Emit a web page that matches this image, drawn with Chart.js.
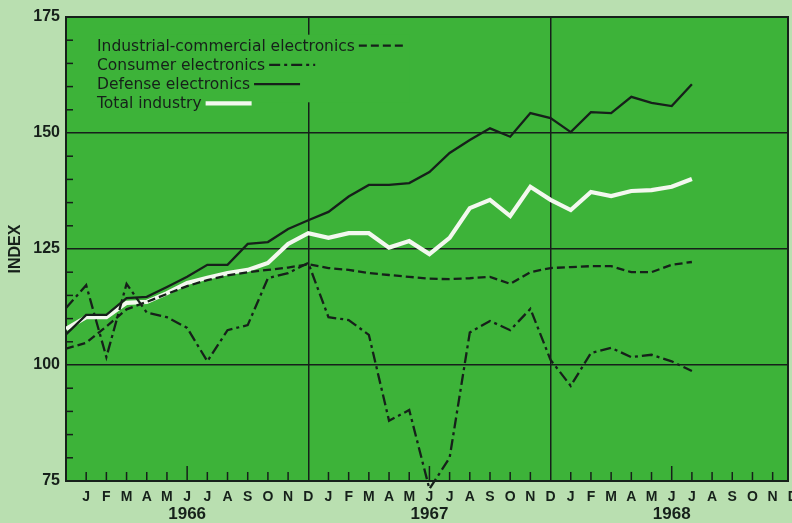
<!DOCTYPE html>
<html>
<head>
<meta charset="utf-8">
<title>Electronics production index</title>
<script src="https://cdn.jsdelivr.net/npm/chart.js@4.4.0/dist/chart.umd.min.js"></script>
<style>
    html, body { margin: 0; padding: 0; background: #b9dfb0; }
    #wrap { width: 792px; height: 523px; }
</style>
</head>
<body>
<div id="wrap"><canvas id="indexChart" width="792" height="523"></canvas></div>
<script>
// Month axis, Dec 1965 (unlabelled) through Dec 1968
const monthLabels = ['',
    'J', 'F', 'M', 'A', 'M', 'J', 'J', 'A', 'S', 'O', 'N', 'D',
    'J', 'F', 'M', 'A', 'M', 'J', 'J', 'A', 'S', 'O', 'N', 'D',
    'J', 'F', 'M', 'A', 'M', 'J', 'J', 'A', 'S', 'O', 'N', 'D'];
// year captions sit under each June tick
const yearLabels = ['1966', '1967', '1968'];

// Monthly index values, Dec 1965 .. Jul 1968
const industrialValues = [103.5, 104.8, 108.3, 112, 113.6, 115.3, 117, 118.3, 119.3, 120, 120.5, 121,
    121.7, 120.9, 120.5, 119.8, 119.4, 119, 118.6, 118.5, 118.7, 119, 117.5, 120,
    120.9, 121.1, 121.3, 121.3, 120, 120, 121.6, 122.2];
const consumerValues = [112.3, 117.2, 101.7, 117.5, 111.3, 110.3, 108, 100.8, 107.5, 108.6, 118.7, 119.8,
    122, 110.3, 109.7, 106.5, 88, 90.3, 73.3, 80, 107, 109.5, 107.5, 112.1,
    101.1, 95.5, 102.6, 103.7, 101.7, 102.2, 100.8, 98.7];
const defenseValues = [106.6, 110.8, 110.8, 114.4, 114.7, 116.8, 119, 121.6, 121.6, 126.1, 126.5, 129.3,
    131.2, 133, 136.3, 138.8, 138.8, 139.2, 141.6, 145.7, 148.5, 151, 149.2, 154.3,
    153.2, 150.2, 154.5, 154.3, 157.8, 156.5, 155.8, 160.5];
const totalValues = [107.8, 110.3, 110.3, 113.4, 113.6, 115.5, 117.7, 118.8, 119.8, 120.5, 122, 126.1,
    128.4, 127.4, 128.4, 128.4, 125.3, 126.7, 123.9, 127.4, 133.8, 135.6, 132.1, 138.4,
    135.6, 133.4, 137.3, 136.4, 137.5, 137.7, 138.4, 140.1];

const seriesNames = ['Industrial-commercial electronics', 'Consumer electronics', 'Defense electronics', 'Total industry'];

const PLOT_GREEN = '#3db339';
const INK = '#16201a';
const AXIS_FONT = "'Liberation Sans', Arial, sans-serif";

function toPoints(values) {
    return values.map(function(v, i) { return { x: i, y: v }; });
}

function seg(ctx, x1, y1, x2, y2) {
    ctx.beginPath();
    ctx.moveTo(x1, y1);
    ctx.lineTo(x2, y2);
    ctx.stroke();
}

/**
 * Green plot panel, frame, inside tick marks, the key and year captions
 */
const panelPlugin = {
    id: 'panel',
    beforeDraw: function(chart) {
        const ctx = chart.ctx;
        const a = chart.chartArea;
        ctx.save();
        ctx.fillStyle = PLOT_GREEN;
        ctx.fillRect(a.left, a.top, a.right - a.left, a.bottom - a.top);
        ctx.restore();
    },
    beforeDatasetsDraw: function(chart) {
        const ctx = chart.ctx;
        const a = chart.chartArea;
        const x = chart.scales.x;
        const y = chart.scales.y;

        ctx.save();
        ctx.strokeStyle = INK;
        ctx.lineWidth = 1.5;

        // minor ticks point inward from the left axis
        y.ticks.forEach(function(t) {
            if (t.value % 25 === 0) return;
            const py = y.getPixelForValue(t.value);
            seg(ctx, a.left, py, a.left + 7, py);
        });

        // month ticks point up from the bottom axis, June a bit longer
        x.ticks.forEach(function(t) {
            if (t.value <= 0 || t.value % 12 === 0 || t.value > x.max) return;
            const px = x.getPixelForValue(t.value);
            const len = (t.value % 12 === 6) ? 15 : 9;
            seg(ctx, px, a.bottom, px, a.bottom - len);
        });

        ctx.lineWidth = 2;
        ctx.strokeRect(a.left, a.top, a.right - a.left, a.bottom - a.top);

        // key: label first, line sample after it
        const keyX = 97;
        const firstBase = 50.7;
        const rowGap = 19.2;
        ctx.font = "15.5px 'DejaVu Sans', sans-serif";
        ctx.textBaseline = 'alphabetic';
        ctx.textAlign = 'left';

        let widest = 0;
        chart.data.datasets.forEach(function(ds) {
            widest = Math.max(widest, ctx.measureText(ds.label).width + 5 + 46);
        });
        ctx.fillStyle = PLOT_GREEN;
        ctx.fillRect(keyX - 4, firstBase - 16, widest + 8, rowGap * 3 + 10);

        chart.data.datasets.forEach(function(ds, i) {
            const base = firstBase + rowGap * i;
            const w = ctx.measureText(ds.label).width;
            ctx.fillStyle = INK;
            ctx.fillText(ds.label, keyX, base);
            ctx.save();
            ctx.strokeStyle = ds.borderColor;
            ctx.lineWidth = ds.borderWidth;
            ctx.setLineDash(ds.borderDash || []);
            seg(ctx, keyX + w + 4, base - 5, keyX + w + 4 + 46, base - 5);
            ctx.restore();
        });

        ctx.restore();
    },
    afterDraw: function(chart) {
        const ctx = chart.ctx;
        const x = chart.scales.x;
        ctx.save();
        ctx.fillStyle = INK;
        ctx.font = 'bold 17px ' + AXIS_FONT;
        ctx.textAlign = 'center';
        ctx.textBaseline = 'middle';
        yearLabels.forEach(function(year, k) {
            ctx.fillText(year, x.getPixelForValue(6 + 12 * k), 514);
        });
        ctx.restore();
    }
};

const ctx = document.getElementById('indexChart');

new Chart(ctx, {
    type: 'line',
    data: {
        datasets: [{
            label: seriesNames[0],
            data: toPoints(industrialValues),
            borderColor: INK,
            borderWidth: 2.3,
            borderDash: [8, 4]
        }, {
            label: seriesNames[1],
            data: toPoints(consumerValues),
            borderColor: INK,
            borderWidth: 2.3,
            borderDash: [11, 4, 3, 4],
            clip: false
        }, {
            label: seriesNames[2],
            data: toPoints(defenseValues),
            borderColor: INK,
            borderWidth: 2.3
        }, {
            label: seriesNames[3],
            data: toPoints(totalValues),
            borderColor: '#f3f8ef',
            borderWidth: 4.2
        }]
    },
    options: {
        responsive: false,
        animation: false,
        devicePixelRatio: 1,
        elements: {
            point: { radius: 0, hoverRadius: 0 },
            line: { tension: 0, borderCapStyle: 'butt', borderJoinStyle: 'miter' }
        },
        layout: { padding: { top: 17, right: 4, left: 0, bottom: 0 } },
        plugins: {
            legend: { display: false },
            tooltip: { enabled: false }
        },
        scales: {
            x: {
                type: 'linear',
                min: 0,
                max: 35.76,
                afterBuildTicks: function(scale) {
                    scale.ticks = monthLabels.map(function(_, i) { return { value: i }; });
                },
                afterFit: function(scale) {
                    scale.height = 42;
                    scale.paddingLeft = 0;
                    scale.paddingRight = 0;
                },
                border: { display: false },
                grid: {
                    drawTicks: false,
                    lineWidth: 1.5,
                    color: function(c) {
                        const v = c.tick ? c.tick.value : -1;
                        return (v === 12 || v === 24) ? INK : 'transparent';
                    }
                },
                ticks: {
                    autoSkip: false,
                    maxRotation: 0,
                    minRotation: 0,
                    padding: 6,
                    color: INK,
                    font: { family: AXIS_FONT, size: 14, weight: 'bold', lineHeight: '20px' },
                    callback: function(value) {
                        return monthLabels[value];
                    }
                }
            },
            y: {
                min: 75,
                max: 175,
                afterFit: function(scale) {
                    scale.width = 66;
                },
                border: { display: false },
                grid: {
                    drawTicks: false,
                    lineWidth: 1.5,
                    color: function(c) {
                        return (c.tick && c.tick.value % 25 === 0) ? INK : 'transparent';
                    }
                },
                ticks: {
                    stepSize: 5,
                    padding: 6,
                    color: INK,
                    font: { family: AXIS_FONT, size: 16, weight: 'bold' },
                    callback: function(value) {
                        return value % 25 === 0 ? String(value) : '';
                    }
                },
                title: {
                    display: true,
                    text: 'INDEX',
                    color: INK,
                    padding: { top: 6, bottom: 0 },
                    font: { family: AXIS_FONT, size: 16, weight: 'bold' }
                }
            }
        }
    },
    plugins: [panelPlugin]
});
</script>
</body>
</html>
